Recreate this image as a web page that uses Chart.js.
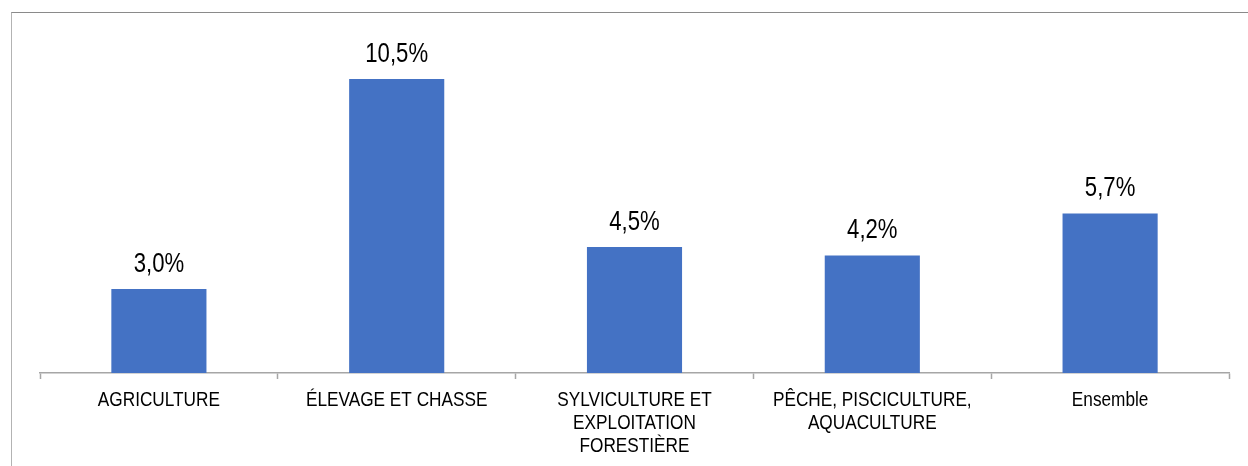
<!DOCTYPE html>
<html>
<head>
<meta charset="utf-8">
<script src="https://cdn.jsdelivr.net/npm/chart.js@4/dist/chart.umd.min.js"></script>
<style>
  html, body { margin: 0; padding: 0; background: #ffffff; }
  #wrap { position: relative; width: 1248px; height: 466px; overflow: hidden; }
  #frame { position: absolute; left: 11px; top: 12px; width: 1300px; height: 500px;
           border-top: 1px solid #8a8a8a; border-left: 1px solid #b3b3b3; box-sizing: border-box; }
  canvas { position: absolute; left: 0; top: 0; }
</style>
</head>
<body>
<div id="wrap">
  <div id="frame"></div>
  <canvas id="c" width="1248" height="466"></canvas>
</div>
<script>
const categories = [
  "AGRICULTURE",
  "ÉLEVAGE ET CHASSE",
  ["SYLVICULTURE ET", "EXPLOITATION", "FORESTIÈRE"],
  ["PÊCHE, PISCICULTURE,", "AQUACULTURE"],
  "Ensemble"
];
const values = [3.0, 10.5, 4.5, 4.2, 5.7];

// Arial Narrow look: Liberation Sans (Arial metrics) compressed horizontally
const FONT = '"Liberation Sans", Arial, sans-serif';
const NARROW = 0.82;

function narrowText(ctx, txt, x, y) {
  ctx.save();
  ctx.translate(x, y);
  ctx.scale(NARROW, 1);
  ctx.fillText(txt, 0, 0);
  ctx.restore();
}

const narrowLabels = {
  id: 'narrowLabels',
  afterDraw(chart) {
    const ctx = chart.ctx;
    // value labels above bars
    const meta = chart.getDatasetMeta(0);
    ctx.save();
    ctx.fillStyle = '#000000';
    ctx.textAlign = 'center';
    ctx.textBaseline = 'alphabetic';
    ctx.font = '27px ' + FONT;
    meta.data.forEach((bar, i) => {
      const txt = values[i].toFixed(1).replace('.', ',') + '%';
      narrowText(ctx, txt, bar.x, bar.y - 17);
    });
    // category labels, positioned by the x scale
    const xs = chart.scales.x;
    ctx.font = '21px ' + FONT;
    const firstBaseline = xs.top + 33;
    const lineGap = 23;
    categories.forEach((lab, i) => {
      const x = xs.getPixelForTick(i);
      const lines = Array.isArray(lab) ? lab : [lab];
      lines.forEach((ln, j) => narrowText(ctx, ln, x, firstBaseline + j * lineGap));
    });
    ctx.restore();
  }
};

new Chart(document.getElementById('c'), {
  type: 'bar',
  data: {
    labels: categories,
    datasets: [{
      data: values,
      backgroundColor: '#4472C4',
      borderWidth: 0,
      barPercentage: 0.4,
      categoryPercentage: 1.0
    }]
  },
  options: {
    responsive: false,
    animation: false,
    devicePixelRatio: 1,
    layout: { padding: { left: 40, right: 19, top: 37, bottom: 0 } },
    plugins: { legend: { display: false }, tooltip: { enabled: false } },
    scales: {
      x: {
        offset: true,
        afterFit(axis) { axis.height = 93; },
        grid: {
          offset: true,
          drawOnChartArea: false,
          drawTicks: true,
          tickLength: 6,
          tickWidth: 1.5,
          color: '#a6a6a6'
        },
        border: { display: true, color: '#a6a6a6', width: 1.5 },
        ticks: {
          color: 'rgba(0,0,0,0)',
          font: { family: FONT, size: 21 },
          padding: 6,
          maxRotation: 0,
          autoSkip: false
        }
      },
      y: {
        display: false,
        min: 0,
        max: 12
      }
    }
  },
  plugins: [narrowLabels]
});
</script>
</body>
</html>
